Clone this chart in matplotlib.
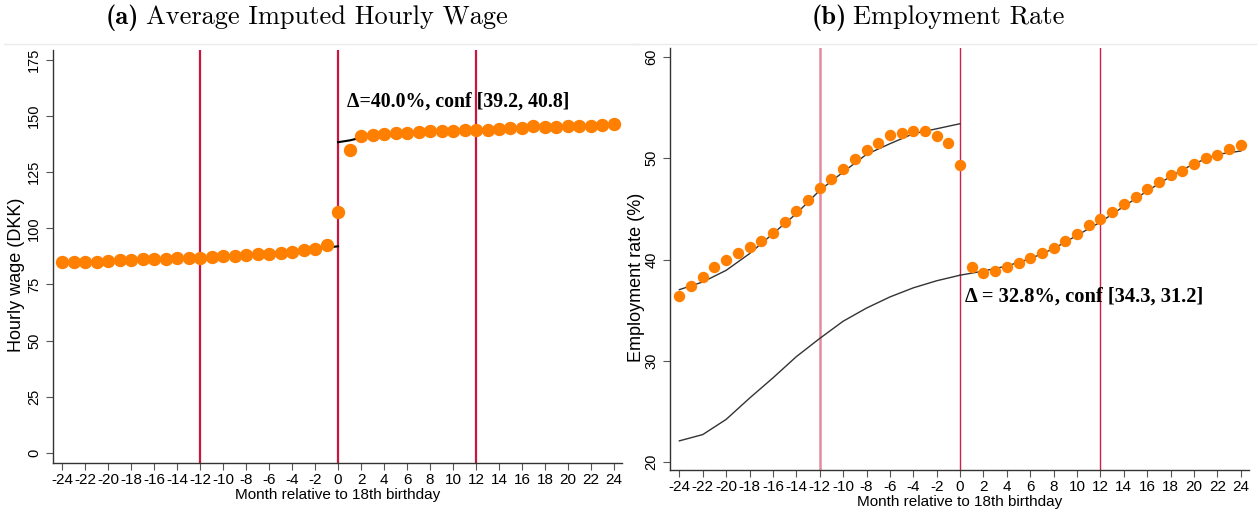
import matplotlib
matplotlib.use("Agg")
import matplotlib.pyplot as plt
from matplotlib.lines import Line2D
import numpy as np

plt.rcParams['font.family'] = ['Liberation Sans', 'DejaVu Sans']

months = list(range(-24, 25))

wage = [84.8, 85.1, 85.1, 85.1, 85.6, 86.0, 86.0, 86.3, 86.3, 86.3, 86.6, 86.6, 86.8,
        87.2, 87.5, 87.8, 88.1, 88.5, 88.4, 89.1, 89.3, 90.2, 90.8, 92.4, 107.1,
        134.8, 141.1, 141.8, 142.1, 142.4, 142.6, 143.0, 143.6, 143.6, 143.6, 143.8, 143.8,
        144.0, 144.5, 144.8, 144.8, 145.5, 145.2, 145.2, 145.5, 145.8, 145.5, 146.0, 146.4]

wage_fit_months_pre = [-24, -20, -16, -12, -8, -4, -2, 0]
wage_fit_pre = [85.0, 85.5, 86.1, 86.9, 88.0, 89.8, 90.8, 92.0]
wage_fit_months_post = [0, 1, 2, 4, 8, 12, 16, 20, 24]
wage_fit_post = [138.4, 139.2, 140.4, 141.8, 143.2, 143.9, 144.8, 145.5, 146.2]

emp = [36.36, 37.35, 38.27, 39.26, 39.92, 40.67, 41.20, 41.83, 42.62, 43.67, 44.76, 45.91, 47.03,
       47.98, 48.97, 49.89, 50.78, 51.54, 52.26, 52.53, 52.69, 52.69, 52.16, 51.51, 49.30,
       39.26, 38.67, 38.90, 39.26, 39.65, 40.18, 40.64, 41.17, 41.83, 42.49, 43.44, 43.97,
       44.69, 45.45, 46.14, 46.93, 47.62, 48.31, 48.77, 49.40, 49.99, 50.35, 50.91, 51.31]

fit_months_pre = [-24, -22, -20, -18, -16, -14, -12, -10, -8, -6, -4, -2, 0]
emp_fit_pre = [37.02, 37.78, 38.93, 40.58, 42.55, 44.53, 46.83, 48.64, 50.39, 51.44, 52.43, 52.92, 53.42]
emp_counterfactual = [22.08, 22.7, 24.2, 26.3, 28.3, 30.4, 32.2, 33.9, 35.2, 36.3, 37.2, 37.9, 38.45]
fit_months_post = [0, 2, 4, 6, 8, 10, 12, 14, 16, 18, 20, 22, 24]
emp_fit_post = [38.45, 38.86, 39.36, 40.08, 41.07, 42.39, 43.70, 45.25, 46.77, 48.21, 49.47, 50.39, 50.72]

xticks = list(range(-24, 25, 2))
wage_yticks = [0, 25, 50, 75, 100, 125, 150, 175]
emp_yticks = [20, 30, 40, 50, 60]
vlines = [-12, 0, 12]

ORANGE = '#FF7F00'

fig = plt.figure(figsize=(12.59, 5.12), dpi=100)
W, H = 1259, 512

def frac(x0, x1, ytop, ybot):
    return [x0 / W, 1 - ybot / H, (x1 - x0) / W, (ybot - ytop) / H]

ax1 = fig.add_axes(frac(53, 622, 50, 463))
ax2 = fig.add_axes(frac(670, 1249, 48, 470))

def style(ax):
    for s in ['top', 'right']:
        ax.spines[s].set_visible(False)
    for s in ['left', 'bottom']:
        ax.spines[s].set_color('#333333')
        ax.spines[s].set_linewidth(1.0)
    ax.tick_params(direction='out', length=5, width=0.8, color='#555555', labelsize=10.5,
                   labelcolor='black')
    ax.tick_params(axis='x', labelsize=11, pad=2.5)
    ax.set_xticks(xticks)
    ax.set_xticklabels([str(t) for t in xticks])
    ax.set_xlabel('Month relative to 18th birthday', fontsize=11, labelpad=0.5)

# Left panel
style(ax1)
ax1.set_xlim(-24.8, 24.7)
ax1.set_ylim(-4.6, 179.5)
ax1.set_yticks(wage_yticks)
ax1.set_yticklabels([str(t) for t in wage_yticks], rotation=90, va='center')
ax1.set_ylabel('Hourly wage (DKK)', fontsize=13)
ax1.yaxis.set_label_coords(-0.049, 0.455)
for v in vlines:
    ax1.axvline(v, color='#C8163F', lw=1.6, zorder=1)
ax1.plot(wage_fit_months_pre, wage_fit_pre, color='black', lw=1.5, zorder=2)
ax1.plot(wage_fit_months_post, wage_fit_post, color='black', lw=1.5, zorder=2)
ax1.plot(months, wage, 'o', color=ORANGE, ms=8.6, mec=ORANGE, zorder=3)
ax1.text(0.75, 156.5, 'Δ=40.0%, conf [39.2, 40.8]', family='Liberation Serif',
         fontweight='bold', fontsize=14.3, va='center', ha='left', zorder=4)

# Right panel
style(ax2)
ax2.set_xlim(-24.8, 24.7)
ax2.set_ylim(19.2, 60.9)
ax2.set_yticks(emp_yticks)
ax2.set_yticklabels([str(t) for t in emp_yticks], rotation=90, va='center')
ax2.set_ylabel('Employment rate (%)', fontsize=13)
ax2.yaxis.set_label_coords(-0.043, 0.457)
ax2.axvline(-12, color='#E48AA0', lw=1.8, zorder=1)
ax2.axvline(0, color='#D0204A', lw=1.0, zorder=1)
ax2.axvline(12, color='#D0204A', lw=1.0, zorder=1)
ax2.plot(fit_months_pre, emp_fit_pre, color='#333333', lw=1.0, zorder=2)
ax2.plot(fit_months_pre, emp_counterfactual, color='#333333', lw=1.0, zorder=2)
ax2.plot(fit_months_post, emp_fit_post, color='#333333', lw=1.0, zorder=2)
ax2.plot(months, emp, 'o', color=ORANGE, ms=7.2, mec=ORANGE, zorder=3)
ax2.text(0.45, 36.3, 'Δ = 32.8%, conf [34.3, 31.2]', family='Liberation Serif',
         fontweight='bold', fontsize=14.8, va='center', ha='left', zorder=4)

# Panel titles: bold label + roman text, centred as one unit
def panel_title(cx, baseline, label, rest, size=19, gap=7):
    t1 = fig.text(0, 1 - baseline / H, label, family='cmb10', fontsize=size, va='baseline')
    t2 = fig.text(0, 1 - baseline / H, rest, family='cmr10', fontsize=size, va='baseline')
    fig.canvas.draw()
    r = fig.canvas.get_renderer()
    w1 = t1.get_window_extent(r).width
    w2 = t2.get_window_extent(r).width
    left = cx - (w1 + gap + w2) / 2
    t1.set_x(left / W)
    t2.set_x((left + w1 + gap) / W)

panel_title(307, 24, '(a)', 'Average Imputed Hourly Wage')
panel_title(938, 24, '(b)', 'Employment Rate')

# faint panel borders
fig.add_artist(Line2D([4 / W, 638 / W], [1 - 44 / H] * 2, color='#EBEBEB', lw=1))
fig.add_artist(Line2D([632 / W, 1256 / W], [1 - 44 / H] * 2, color='#EBEBEB', lw=1))

fig.savefig('out.png', dpi=100)
